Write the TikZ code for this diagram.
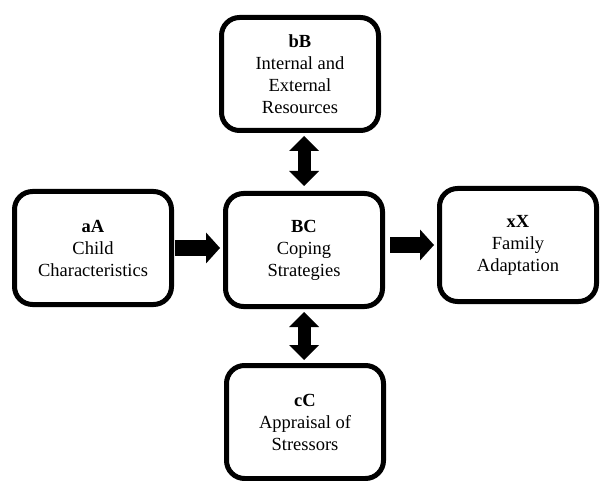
\documentclass[tikz,border=0pt]{standalone}
\usepackage{fontspec}
\setmainfont{Liberation Serif}
\usetikzlibrary{arrows.meta}
\begin{document}
\begin{tikzpicture}[x=1pt,y=-1pt,
  box/.style={draw,line width=5pt,rounded corners=18pt,minimum width=157pt,minimum height=113pt,
    inner sep=0pt,align=center,font=\fontsize{18.5}{22}\selectfont},
  fatarrow/.style={line width=16pt,-{Triangle[length=14pt,width=31pt,line width=0pt]}},
  fatdbl/.style={line width=13pt,{Triangle[length=15pt,width=30pt,line width=0pt]}-{Triangle[length=15pt,width=30pt,line width=0pt]}}]
\useasboundingbox (0,0) rectangle (600,481);
\node[box] (aA) at (93,248) {\textbf{aA}\\Child\\Characteristics};
\node[box] (BC) at (304,250) {\textbf{BC}\\Coping\\Strategies};
\node[box] (xX) at (518,245) {\textbf{xX}\\Family\\Adaptation};
\node[box] (bB) at (300,74) {\textbf{bB}\\Internal and\\External\\Resources};
\node[box] (cC) at (305,422) {\textbf{cC}\\Appraisal of\\Stressors};
\draw[fatarrow,shorten <=1pt,shorten >=3pt] (aA.east) -- (aA.east -| BC.west);
\draw[fatarrow,shorten <=5pt,shorten >=3pt] (BC.east |- xX.west) -- (xX.west);
\draw[fatdbl,shorten <=3pt,shorten >=5pt] (BC.north |- bB.south) -- (BC.north);
\draw[fatdbl,shorten <=3pt,shorten >=3pt] (BC.south) -- (BC.south |- cC.north);
\end{tikzpicture}
\end{document}
